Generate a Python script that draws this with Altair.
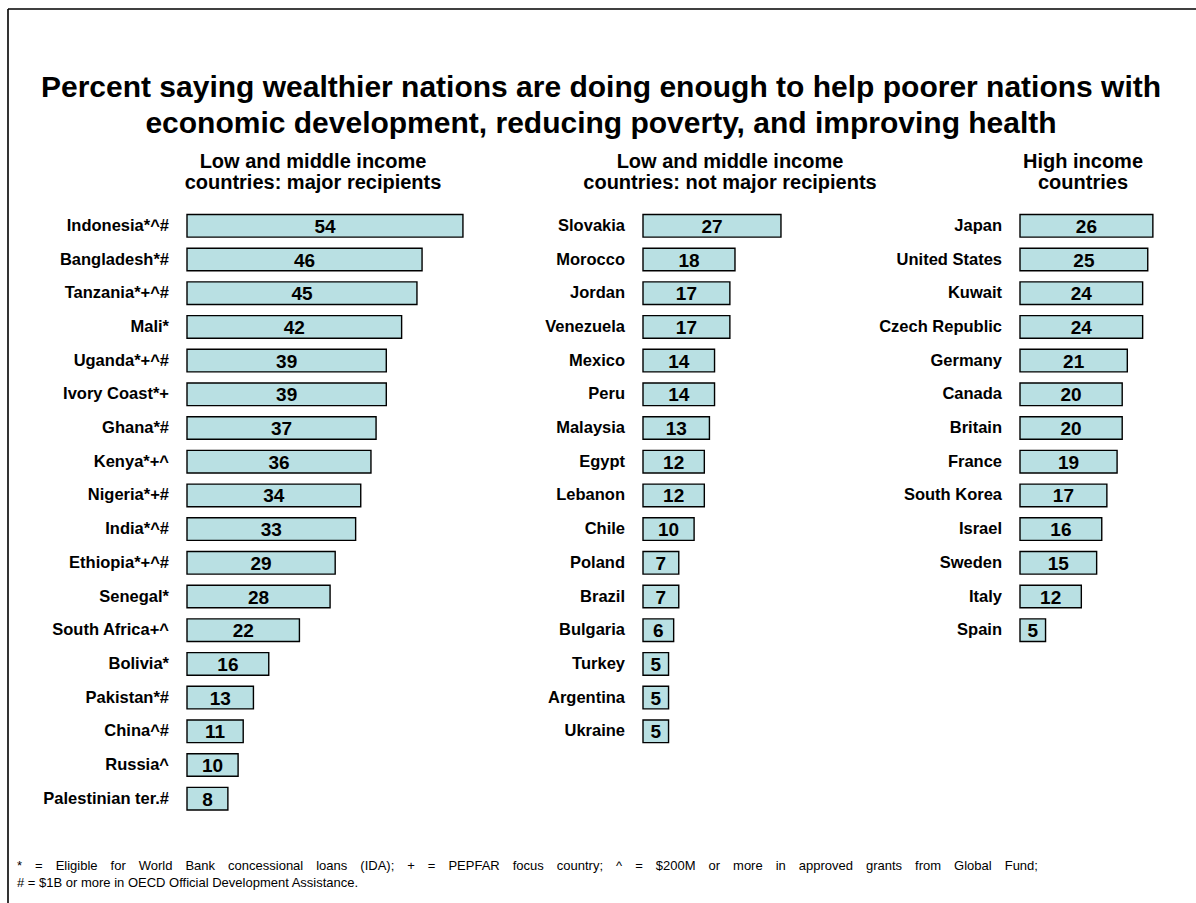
import altair as alt
import pandas as pd

TITLE_LINES = [
    "Percent saying wealthier nations are doing enough  to help poorer nations with",
    "economic development, reducing poverty, and improving health",
]
FOOTNOTE_LINES = [
    "* = Eligible for World Bank concessional loans (IDA); + = PEPFAR focus country; ^ = $200M or more in approved grants from Global Fund;",
    "# = $1B or more in OECD Official Development Assistance.",
]

HEADER_1 = ["Low and middle income", "countries: major recipients"]
HEADER_2 = ["Low and middle income", "countries: not major recipients"]
HEADER_3 = ["High income", "countries"]

COUNTRIES_1 = ["Indonesia*^#", "Bangladesh*#", "Tanzania*+^#", "Mali*", "Uganda*+^#",
               "Ivory Coast*+", "Ghana*#", "Kenya*+^", "Nigeria*+#", "India*^#",
               "Ethiopia*+^#", "Senegal*", "South Africa+^", "Bolivia*", "Pakistan*#",
               "China^#", "Russia^", "Palestinian ter.#"]
VALUES_1 = [54, 46, 45, 42, 39, 39, 37, 36, 34, 33, 29, 28, 22, 16, 13, 11, 10, 8]

COUNTRIES_2 = ["Slovakia", "Morocco", "Jordan", "Venezuela", "Mexico", "Peru",
               "Malaysia", "Egypt", "Lebanon", "Chile", "Poland", "Brazil",
               "Bulgaria", "Turkey", "Argentina", "Ukraine"]
VALUES_2 = [27, 18, 17, 17, 14, 14, 13, 12, 12, 10, 7, 7, 6, 5, 5, 5]

COUNTRIES_3 = ["Japan", "United States", "Kuwait", "Czech Republic", "Germany",
               "Canada", "Britain", "France", "South Korea", "Israel", "Sweden",
               "Italy", "Spain"]
VALUES_3 = [26, 25, 24, 24, 21, 20, 20, 19, 17, 16, 15, 12, 5]

FONT = "Liberation Sans, Arial, Helvetica, sans-serif"
FILL = "#B9E0E3"
W, H = 1196, 903
STEP = 33.7
Y0 = 225.8 - STEP / 2
PX = 5.11  # pixels per percentage point

one = alt.Data(values=[{"k": 1}])


def text_block(lines, x, y, size, align="center", weight="bold", line_height=None):
    return alt.Chart(one).mark_text(
        font=FONT, fontSize=size, fontWeight=weight, align=align,
        baseline="alphabetic", lineHeight=line_height or size * 1.2, color="black",
    ).encode(x=alt.value(x), y=alt.value(y), text=alt.value(lines))


def panel(countries, values, x0):
    df = pd.DataFrame({"country": countries, "value": values})
    n = len(countries)
    yscale = alt.Scale(domain=countries, range=[Y0, Y0 + n * STEP],
                       paddingInner=0.33, paddingOuter=0.165)
    xscale = alt.Scale(domain=[0, 100], range=[x0, x0 + 100 * PX])
    base = alt.Chart(df)
    y = alt.Y("country:N", scale=yscale, axis=None)
    bars = base.mark_bar(fill=FILL, stroke="black", strokeWidth=1.4).encode(
        x=alt.X("value:Q", scale=xscale, axis=None), y=y)
    vals = base.transform_calculate(mid="datum.value / 2").mark_text(
        font=FONT, fontSize=19, fontWeight="bold", baseline="middle",
        align="center", dy=1, color="black",
    ).encode(x=alt.X("mid:Q", scale=xscale, axis=None), y=y, text="value:Q")
    labels = base.mark_text(
        font=FONT, fontSize=16.5, fontWeight="bold", baseline="middle",
        align="right", color="black",
    ).encode(x=alt.value(x0 - 18), y=y, text="country:N")
    return alt.layer(bars, vals, labels)


border_left = alt.Chart(one).mark_rule(color="black", strokeWidth=1.6).encode(
    x=alt.value(8), y=alt.value(9), y2=alt.value(H))
border_top = alt.Chart(one).mark_rule(color="black", strokeWidth=1.6).encode(
    x=alt.value(8), x2=alt.value(W), y=alt.value(9))

title = text_block(TITLE_LINES, 601, 97, 30, line_height=36)
h1 = text_block(HEADER_1, 313, 168, 20, line_height=21)
h2 = text_block(HEADER_2, 730, 168, 20, line_height=21)
h3 = text_block(HEADER_3, 1083, 168, 20, line_height=21)

# The footnote paragraph is justified: the first line is stretched to the box
# width (emulated with em-wide spaces), the last line keeps normal spacing.
foot_lines = [FOOTNOTE_LINES[0].replace(" ", "\u2003"), FOOTNOTE_LINES[1]]
foot = text_block(foot_lines, 17, 870, 13, align="left", weight="normal",
                  line_height=17)

chart = alt.layer(
    border_left, border_top, title, h1, h2, h3, foot,
    panel(COUNTRIES_1, VALUES_1, 187),
    panel(COUNTRIES_2, VALUES_2, 643),
    panel(COUNTRIES_3, VALUES_3, 1020),
).resolve_scale(x="independent", y="independent").properties(
    width=W, height=H, padding=0, autosize="none", background="white",
).configure_view(stroke=None)

chart.save("out.html", embed_options={"renderer": "svg", "actions": False})
